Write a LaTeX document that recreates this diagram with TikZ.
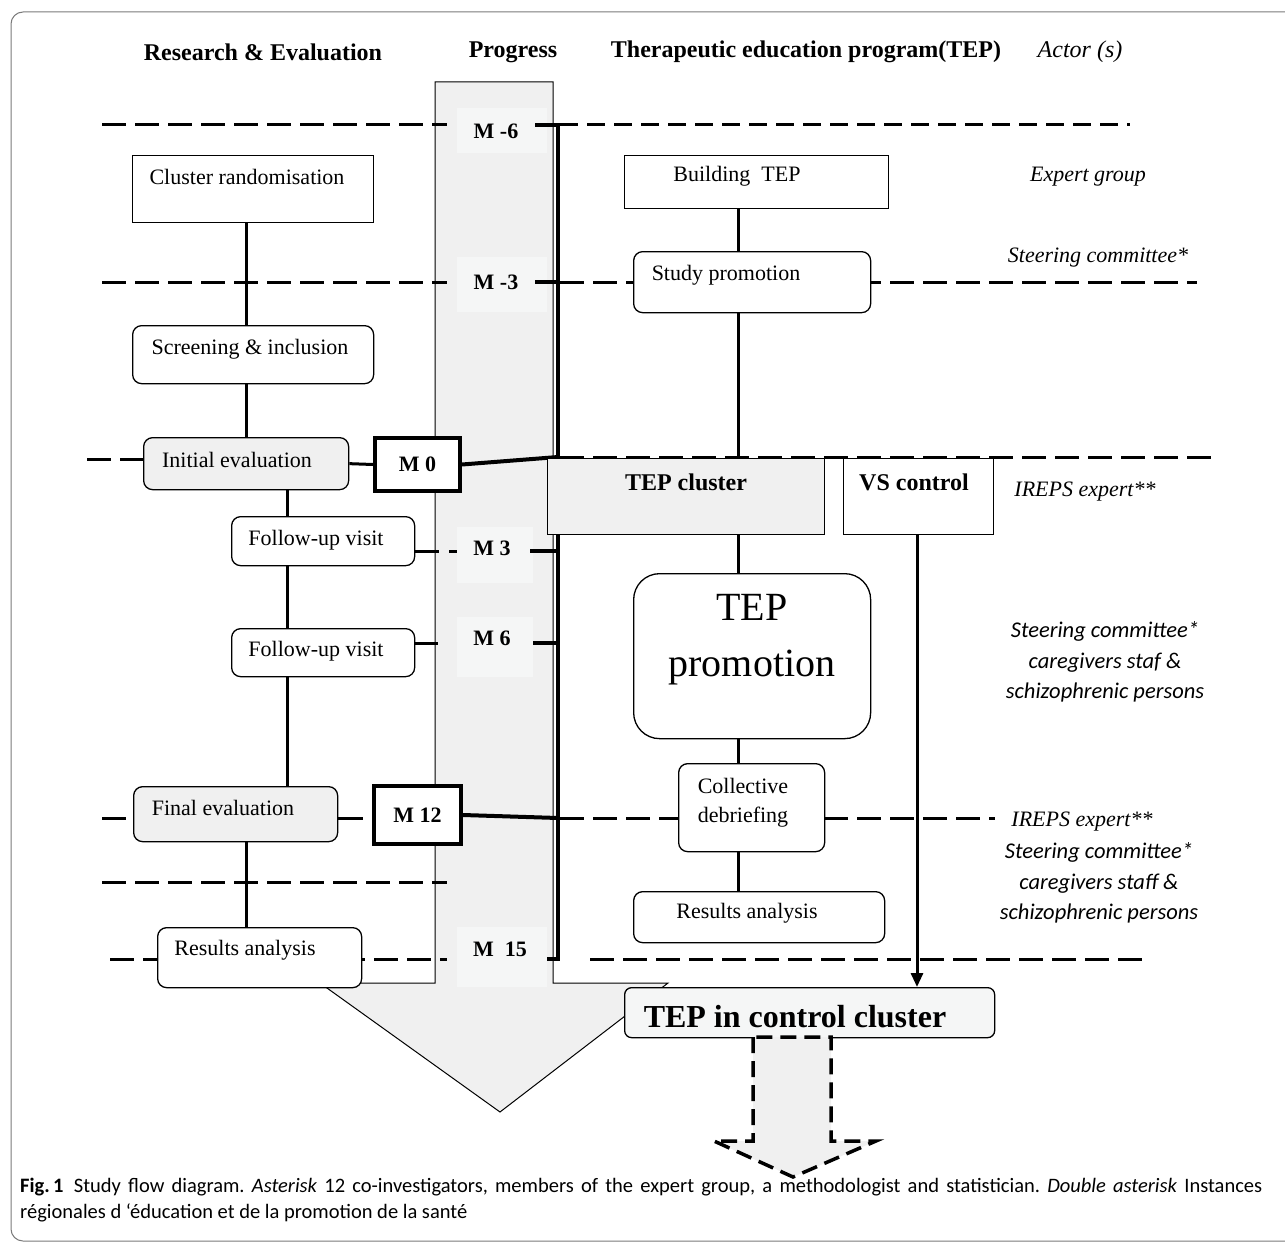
\documentclass[tikz,border=0pt]{standalone}
\usepackage{fontspec}
\setmainfont{Liberation Serif}
\newfontfamily\calib{Carlito}
\usetikzlibrary{arrows.meta}
\definecolor{shaftc}{HTML}{F0F0F0}
\definecolor{labc}{HTML}{F5F6F6}
\definecolor{framec}{HTML}{7A7A7A}
\tikzset{
  box/.style={draw, line width=1.3pt, inner sep=0pt, fill=white, anchor=north west},
  rbox/.style={box, rounded corners=9pt},
  gfill/.style={fill=shaftc},
  mbox/.style={draw, line width=4pt, inner sep=0pt, fill=white, anchor=north west,
               font=\bfseries\fontsize{22}{26}\selectfont},
  labbox/.style={fill=labc, inner sep=0pt, anchor=north west},
  mtxt/.style={inner sep=0pt, font=\bfseries\fontsize{22}{26}\selectfont},
  txt/.style={inner sep=0pt, font=\fontsize{22}{26}\selectfont},
  btxt/.style={inner sep=0pt, font=\bfseries\fontsize{24}{28}\selectfont},
  hdr/.style={inner sep=0pt, font=\bfseries\fontsize{24}{28}\selectfont},
  act/.style={inner sep=0pt, font=\itshape\fontsize{22}{26}\selectfont},
  cal/.style={inner sep=0pt, align=center, font=\calib\itshape\fontsize{22.5}{30.5}\selectfont},
  capt/.style={inner sep=0pt, anchor=west, font=\calib\frenchspacing\fontsize{20.5}{22}\selectfont},
  conn/.style={line width=3pt},
  thk/.style={line width=4pt},
  dline/.style={line width=3pt, dash pattern=on 24pt off 9pt},
  dline2/.style={line width=3pt, dash pattern=on 18pt off 9pt},
}
\begin{document}
\begin{tikzpicture}[x=1pt,y=-1pt]
\useasboundingbox (0,0) rectangle (1285,1244);
% frame
\draw[framec, line width=1pt, rounded corners=12pt] (11,12) rectangle (1310,1241);

% headers
\node[hdr] (h1) at (263,52) {Research \& Evaluation};
\node[hdr] (h2) at (513,52) {Progress};
\node[hdr] (h3) at (806,52) {Therapeutic education program(TEP)};
\node[act, font=\itshape\fontsize{24}{28}\selectfont] (h4) at (1080,52) {Actor (s)};

% progress arrow
\draw[line width=1pt, fill=shaftc] (435,82) -- (435,983) -- (320,983) -- (500,1112)
  -- (668,983) -- (553,983) -- (553,82) -- cycle;

% dashed time lines
\draw[dline] (102,125) -- (447,125);
\draw[dline2] (560,125) -- (1130,125);
\draw[dline] (102,282) -- (447,282);
\draw[dline] (560,282) -- (1197,282);
\draw[dline] (87,459) -- (143,459);
\draw[dline] (560,457) -- (1212,457);
\draw[dline] (102,882) -- (447,882);
\draw[dline] (110,959) -- (447,959);
\draw[dline] (590,959) -- (1146,959);
\draw[dline] (560,818) -- (995,818);
\draw[dline] (102,818) -- (133,818);

% M labels in the shaft
\node[labbox, minimum width=90pt, minimum height=45pt] (lb6) at (457,108) {};
\node[mtxt] (lm6) at (496,131) {M -6};
\node[labbox, minimum width=90pt, minimum height=55pt] (lb3) at (457,257) {};
\node[mtxt] (lm3) at (496,282) {M -3};
\node[labbox, minimum width=76pt, minimum height=56pt] (lp3) at (457,527) {};
\node[mtxt] (tp3) at (492,548) {M 3};
\node[labbox, minimum width=76pt, minimum height=60pt] (lp6) at (457,617) {};
\node[mtxt] (tp6) at (492,638) {M 6};
\node[labbox, minimum width=90pt, minimum height=60pt] (lp15) at (457,927) {};
\node[mtxt] (tp15) at (500,949) {M\ \ 15};

% thick progress bracket
\draw[thk] (535,125) -- (558,125) -- (558,959) -- (547,959);
\draw[thk] (535,282) -- (558,282);
\draw[thk] (530,551) -- (558,551);
\draw[thk] (533,643) -- (558,643);

% left column boxes
\node[box, minimum width=241pt, minimum height=67pt] (cr) at (132,155) {};
\node[txt] (crt) at (247,177) {Cluster randomisation};
\node[rbox, minimum width=241pt, minimum height=58pt] (si) at (132,325) {};
\node[txt] (sit) at (250,349) {Screening \& inclusion};
\node[rbox, gfill, minimum width=205pt, minimum height=52pt] (ie) at (143,437) {};
\node[txt] (iet) at (237,460) {Initial evaluation};
\node[mbox, minimum width=85pt, minimum height=53pt] (m0) at (373,436) {M 0};
\node[rbox, minimum width=183pt, minimum height=49pt] (fu1) at (231,516) {};
\node[txt] (fu1t) at (316,540) {Follow-up visit};
\node[rbox, minimum width=183pt, minimum height=48pt] (fu2) at (231,628) {};
\node[txt] (fu2t) at (316,651) {Follow-up visit};
\node[rbox, gfill, minimum width=204pt, minimum height=55pt] (fe) at (133,786) {};
\node[txt] (fet) at (223,808) {Final evaluation};
\node[mbox, minimum width=87pt, minimum height=58pt] (m12) at (372,784) {M 12};
\node[rbox, minimum width=204pt, minimum height=60pt] (ral) at (157,927) {};
\node[txt] (ralt) at (245,950) {Results analysis};

% left connectors
\draw[conn] (cr.south -| 246,0) -- (si.north -| 246,0);
\draw[conn] (si.south -| 246,0) -- (ie.north -| 246,0);
\draw[conn] (ie.east) -- (m0.west);
\draw[conn] (ie.south -| 287,0) -- (fu1.north -| 287,0);
\draw[conn] (fu1.south -| 287,0) -- (fu2.north -| 287,0);
\draw[conn] (fu2.south -| 287,0) -- (fe.north -| 287,0);
\draw[conn] (fe.south -| 246,0) -- (ral.north -| 246,0);
\draw[conn, dash pattern=on 24pt off 10pt] (fu1.east |- 0,551) -- (457,551);
\draw[conn] (fu2.east |- 0,643) -- (438,643);
\draw[conn, dash pattern=on 25pt off 10pt] (fe.east |- 0,818) -- (m12.west |- 0,818);
\draw[thk] (m0.east) -- (558,457);
\draw[thk] (m12.east) -- (558,818);

% right column boxes
\node[box, minimum width=264pt, minimum height=53pt] (bt) at (624,155) {};
\node[txt] (btt) at (737,176) {Building\ \ TEP};
\node[rbox, minimum width=237pt, minimum height=61pt] (sp) at (633,251) {};
\node[txt] (spt) at (726,275) {Study promotion};
\node[box, gfill, minimum width=277pt, minimum height=76pt] (tc) at (547,458) {};
\node[btxt] (tct) at (686,482) {TEP cluster};
\node[box, minimum width=150pt, minimum height=76pt] (vs) at (843,458) {};
\node[btxt] (vst) at (914,482) {VS control};
\node[box, rounded corners=26pt, minimum width=237pt, minimum height=165pt] (tp) at (633,573) {};
\node[inner sep=0pt, align=center, font=\fontsize{40}{56}\selectfont] (tpt) at (752,640) {TEP\\promotion};
\node[rbox, minimum width=146pt, minimum height=88pt] (cd) at (678,763) {};
\node[inner sep=0pt, align=left, font=\fontsize{22}{29}\selectfont] (cdt) at (743,803) {Collective\\debriefing};
\node[rbox, minimum width=251pt, minimum height=51pt] (rar) at (633,891) {};
\node[txt] (rart) at (747,913) {Results analysis};

% right connectors
\draw[conn] (bt.south -| 738,0) -- (sp.north -| 738,0);
\draw[conn] (sp.south -| 738,0) -- (tc.north -| 738,0);
\draw[conn] (tc.south -| 738,0) -- (tp.north -| 738,0);
\draw[conn] (tp.south -| 738,0) -- (cd.north -| 738,0);
\draw[conn] (cd.south -| 738,0) -- (rar.north -| 738,0);

% control cluster
\node[box, rounded corners=7pt, fill=labc, minimum width=370pt, minimum height=50pt] (tic) at (624,987) {};
\node[inner sep=0pt, font=\bfseries\fontsize{32}{36}\selectfont] (tict) at (795,1017) {TEP in control cluster};
\draw[conn, -{Triangle[length=14pt,width=12pt]}] (vs.south -| 917,0) -- (tic.north -| 917,0);
\draw[line width=3.5pt, dash pattern=on 16pt off 8pt, fill=shaftc]
  (753,1037) -- (753,1141) -- (714,1141) -- (793,1177) -- (876,1141) -- (831,1141) -- (831,1037) -- cycle;

% actors
\node[act] (a1) at (1088,177) {Expert group};
\node[act] (a2) at (1098,258) {Steering committee*};
\node[act] (a3) at (1085,492) {IREPS expert**};
\node[cal] (a4) at (1105,662) {Steering committee*\\caregivers staf \&\\schizophrenic persons};
\node[act] (a5) at (1082,822) {IREPS expert**};
\node[cal] (a6) at (1099,883) {Steering committee*\\caregivers staff \&\\schizophrenic persons};

% caption
\node[capt] (c1) at (20,1187) {\makebox[1242pt][s]{{\bfseries Fig.\,1}\hspace{0.5em}Study flow diagram. \emph{Asterisk} 12 co-investigators, members of the expert group, a methodologist and statistician. \emph{Double asterisk} Instances}};
\node[capt] (c2) at (20,1213) {régionales d ‘éducation et de la promotion de la santé};
\end{tikzpicture}
\end{document}
